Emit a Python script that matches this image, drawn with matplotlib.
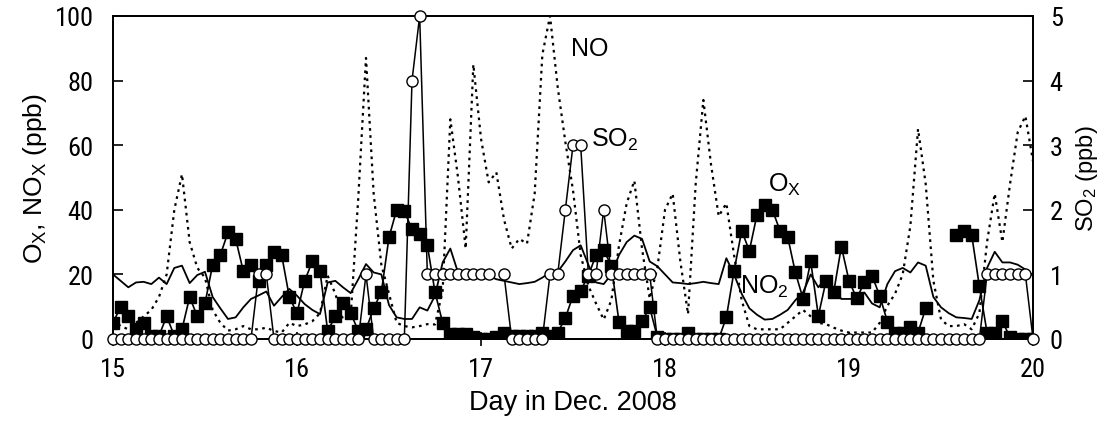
import matplotlib
matplotlib.use("Agg")
import matplotlib.pyplot as plt
import numpy as np
from matplotlib import font_manager

nan = np.nan

# hourly samples, 15 Dec 00:00 -> 20 Dec 00:00
HOURS = np.arange(121)
DAYS = 15 + HOURS / 24.0

OX = [5, 10, 7, 3, 5, 1, 1, 7, 1, 3,
      13, 7, 11, 23, 26, 33, 31, 21, 23, 18,
      23, 27, 26, 13, 8, 18, 24, 21, 2.5, 7,
      11, 8, 2.5, 3, 9.5, 14.5, 31.5, 40, 39.5, 34,
      32.5, 29, 14.5, 5, 1.5, 1.5, 1.5, 0.5, 0, 0,
      0.5, 2, 1, 1, 1, 1, 2, 1, 2, 6.5,
      13.4, 15, 19.6, 26, 27.5, 22.7, 5.2, 2.6, 2.6, 5.5,
      9.8, 0.6, 0, 0, 0, 2, 0, 0, 0, 0,
      6.7, 21, 33.5, 27.3, 38.5, 41.5, 40, 33.5, 31.6, 20.6,
      12.5, 24, 7.2, 18, 14.5, 28.6, 18, 12.6, 17.5, 19.6,
      13.4, 5.4, 2, 2, 3.7, 2, 9.5, nan, nan, nan,
      32.2, 33.5, 32.2, 16.3, 2, 2, 5.5, 0.5, 0, 0,
      0]

NO2 = [20, 18, 16, 17.5, 17.7, 17, 19, 17, 22, 22.7,
       17.3, 19.8, 20.8, 13, 9.5, 6.2, 6.7, 9.8, 12.4, 13.5,
       14.7, 10.3, 13, 15.5, 13.4, 10.8, 9, 7.7, 17.5, 18,
       16, 14.2, 18.5, 23.2, 20.6, 20, 10.5, 6.7, 6.2, 6.2,
       9.8, 8.8, 13.4, 23.7, 28, 20.6, 20, 20, 19.6, 19.6,
       18.5, 18, 17.5, 17, 17.3, 17.7, 19, 20.6, 20.8, 24,
       27.5, 29, 23, 17.5, 17, 20, 26, 30, 32, 31,
       24, 22.5, 20, 17.5, 17.3, 17, 17.3, 17.7, 17.3, 17,
       25, 20, 14, 9.5, 7.5, 6, 6.2, 7.5, 9, 12,
       14.4, 20, 16, 19, 15.5, 12.4, 12.4, 12.4, 14.4, 11,
       9.8, 17, 21, 22, 20.6, 23.7, 22.7, 13, 9.8, 8,
       6.7, 6.5, 6.2, 12, 22, 27, 23.7, 23.7, 23, 21.5,
       19.6]

NO = [6, 4, 3, 5, 7, 9, 13, 20, 40, 51,
      30, 22, 19, 9, 5, 2.6, 3, 4, 3, 3,
      3.5, 2.5, 2, 5, 4, 4.5, 5.5, 8, 19.6, 14,
      6, 7, 44, 87, 45, 23, 14, 5, 4, 3.6,
      4, 4.6, 4.5, 15, 68, 50, 28, 85, 62, 48.5,
      51.6, 37, 28, 31, 29.5, 45, 88, 100, 78, 61,
      46, 26, 16.5, 11, 6, 12, 29, 42, 49, 28,
      12.5, 22, 40, 45, 24, 7.7, 48, 74, 54, 38,
      42, 26, 12, 4, 3, 3, 3, 3, 5, 7,
      9, 7, 5, 4.6, 3.5, 2.6, 2, 2, 2, 2,
      5, 10.3, 14, 20, 35, 65, 48, 18, 6, 4,
      4, 4.6, 3, 8, 30, 45, 30, 48, 64, 69,
      55]

SO2 = ([0] * 19 + [1, 1] + [0] * 12 + [1] + [0] * 5 + [4, 5] + [1] * 9
       + [nan, 1] + [0] * 5 + [1, 1, 2, 3, 3, 1, 1, 2] + [1] * 6
       + [0] * 43 + [1] * 6 + [0])

X_TICKS = [15, 16, 17, 18, 19, 20]
LEFT_TICKS = [0, 20, 40, 60, 80, 100]
RIGHT_TICKS = [0, 1, 2, 3, 4, 5]


def pick_font(names):
    installed = {f.name for f in font_manager.fontManager.ttflist}
    for name in names:
        if name in installed:
            return name
    return "DejaVu Sans"


LABEL_FONT = pick_font(["Liberation Sans", "Arial", "DejaVu Sans"])
TICK_FONT = pick_font(["Liberation Sans Narrow", "Roboto Condensed",
                       "Liberation Sans", "DejaVu Sans"])

plt.rcParams["font.family"] = [LABEL_FONT, "DejaVu Sans"]
plt.rcParams["mathtext.fontset"] = "custom"
plt.rcParams["mathtext.rm"] = LABEL_FONT
plt.rcParams["mathtext.it"] = LABEL_FONT

fig = plt.figure(figsize=(11.12, 4.35), dpi=100)
ax = fig.add_axes([0.1016, 0.2184, 0.8274, 0.7426])

ax.plot(DAYS, NO, color="black", lw=1.6, linestyle=(0, (1.2, 2.0)), zorder=2)
ax.plot(DAYS, NO2, color="black", lw=1.3, zorder=3)
ax.plot(DAYS, OX, color="black", lw=1.2, marker="s", markersize=9,
        markerfacecolor="black", markeredgecolor="black", zorder=4)

ax.set_xlim(15, 20)
ax.set_ylim(0, 100)
ax.set_xticks(X_TICKS)
ax.set_yticks(LEFT_TICKS)

ax2 = ax.twinx()
ax2.plot(DAYS, SO2, color="black", lw=1.1, marker="o", markersize=8,
         markerfacecolor="white", markeredgecolor="black",
         markeredgewidth=1.0, clip_on=False, zorder=5)
ax2.set_ylim(0, 5)
ax2.set_yticks(RIGHT_TICKS)
ax2.set_xlim(15, 20)

for a in (ax, ax2):
    for s in a.spines.values():
        s.set_linewidth(1.3)

ax.tick_params(axis="y", direction="in", length=7, width=1.2, pad=14,
               labelsize=19)
ax.tick_params(axis="x", direction="inout", length=10, width=1.2, pad=8,
               labelsize=19)
ax2.tick_params(axis="y", direction="in", length=7, width=1.2, pad=12,
                labelsize=19)

for lab in ax.get_xticklabels() + ax.get_yticklabels() + ax2.get_yticklabels():
    lab.set_fontfamily(TICK_FONT)

ax.set_xlabel("Day in Dec. 2008", fontsize=19.5, labelpad=6)
ax.set_ylabel(r"O$_\mathrm{X}$, NO$_\mathrm{X}$ (ppb)", fontsize=19,
              labelpad=4)
ax2.set_ylabel(r"SO$_2$ (ppb)", fontsize=17, labelpad=8)

ax.text(17.49, 90, "NO", fontsize=18, va="center", ha="left")
ax.text(17.60, 62, r"SO$_2$", fontsize=18, va="center", ha="left")
ax.text(18.56, 48, r"O$_\mathrm{X}$", fontsize=18, va="center", ha="left")
ax.text(18.41, 16.5, r"NO$_2$", fontsize=18, va="center", ha="left")

fig.savefig("out.png", dpi=100)
